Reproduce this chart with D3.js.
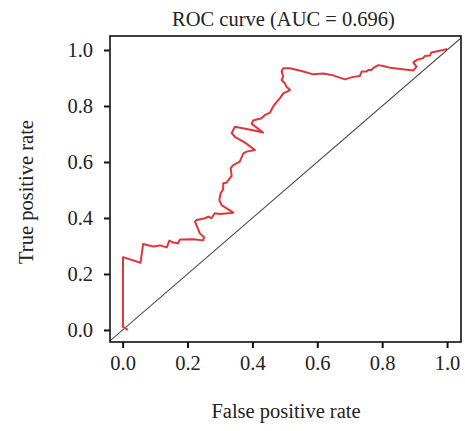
<!DOCTYPE html>
<html><head><meta charset="utf-8">
<script src="https://cdn.jsdelivr.net/npm/d3@7"></script>
<style>
html,body{margin:0;padding:0;background:#fff;}
text{font-family:"Liberation Serif","DejaVu Serif",serif;fill:#222;}
</style></head>
<body><svg id="c" width="465" height="431"></svg>
<script>
const titleText = "ROC curve (AUC = 0.696)";
const xLabel = "False positive rate";
const yLabel = "True positive rate";
const tickValues = [0.0, 0.2, 0.4, 0.6, 0.8, 1.0];
const fpr = [0.016,0.001,0.001,0.055,0.063,0.094,0.115,0.136,0.144,0.156,0.171,0.177,0.218,0.248,0.251,0.238,0.223,0.228,0.254,0.264,0.274,0.284,0.300,0.341,0.305,0.298,0.302,0.310,0.310,0.320,0.336,0.333,0.341,0.351,0.361,0.372,0.382,0.408,0.377,0.346,0.336,0.346,0.398,0.433,0.398,0.402,0.428,0.439,0.454,0.464,0.475,0.485,0.495,0.516,0.505,0.500,0.490,0.495,0.490,0.495,0.516,0.557,0.587,0.618,0.644,0.685,0.711,0.731,0.737,0.752,0.757,0.767,0.772,0.788,0.803,0.824,0.896,0.906,0.896,0.906,0.926,0.932,0.947,0.952,0.988,1.000];
const tpr = [0.000,0.011,0.260,0.240,0.307,0.298,0.302,0.295,0.319,0.312,0.310,0.323,0.324,0.320,0.331,0.345,0.387,0.393,0.399,0.405,0.399,0.417,0.414,0.419,0.446,0.464,0.488,0.503,0.524,0.526,0.550,0.578,0.589,0.595,0.601,0.631,0.637,0.643,0.669,0.690,0.703,0.726,0.714,0.705,0.736,0.748,0.756,0.768,0.776,0.798,0.815,0.828,0.845,0.857,0.869,0.881,0.893,0.905,0.923,0.935,0.935,0.923,0.913,0.916,0.911,0.895,0.904,0.907,0.923,0.923,0.929,0.929,0.935,0.946,0.943,0.937,0.927,0.940,0.956,0.964,0.971,0.979,0.980,0.991,1.000,1.004];

const svg = d3.select("#c");
const L = 110, R = 461, T = 36, B = 342;
const x = d3.scaleLinear().domain([-0.039, 1.043]).range([L, R]);
const y = d3.scaleLinear().domain([-0.043, 1.050]).range([B, T]);
const FS = 20.5;

svg.append("defs").append("clipPath").attr("id","clip")
  .append("rect").attr("x",L).attr("y",T).attr("width",R-L).attr("height",B-T);

// diagonal reference line
svg.append("line").attr("clip-path","url(#clip)")
  .attr("x1", x(-0.1)).attr("y1", y(-0.1)).attr("x2", x(1.1)).attr("y2", y(1.1))
  .attr("stroke","#444").attr("stroke-width",1.1);

// ROC curve
const pts = fpr.map((d,i)=>[d,tpr[i]]);
svg.append("path").datum(pts)
  .attr("d", d3.line().x(d=>x(d[0])).y(d=>y(d[1])))
  .attr("fill","none").attr("stroke","#e0363a").attr("stroke-width",2)
  .attr("stroke-linejoin","round");

// box
svg.append("rect").attr("x",L).attr("y",T).attr("width",R-L).attr("height",B-T)
  .attr("fill","none").attr("stroke","#111").attr("stroke-width",1.6);

// axes
const fmt = d3.format(".1f");
const xAxis = svg.append("g").attr("transform",`translate(0,${B})`)
  .call(d3.axisBottom(x).tickValues(tickValues).tickFormat(fmt).tickSize(6).tickPadding(14));
const yAxis = svg.append("g").attr("transform",`translate(${L},0)`)
  .call(d3.axisLeft(y).tickValues(tickValues).tickFormat(fmt).tickSize(6).tickPadding(11));
[xAxis,yAxis].forEach(g=>{
  g.select(".domain").remove();
  g.selectAll(".tick line").attr("stroke","#111").attr("stroke-width",2);
  g.selectAll(".tick text").attr("font-size",FS).attr("fill","#222")
    .style("font-family","'Liberation Serif',serif");
});
xAxis.selectAll(".tick text").attr("dy",null).attr("y",28);
yAxis.selectAll(".tick text").attr("dy","0.32em");

// title and labels
svg.append("text").attr("x",(L+R)/2 - 2).attr("y",26).attr("text-anchor","middle")
  .attr("font-size",FS).text(titleText);
svg.append("text").attr("x",286).attr("y",418).attr("text-anchor","middle")
  .attr("font-size",FS).text(xLabel);
svg.append("text").attr("transform","translate(33,192) rotate(-90)").attr("text-anchor","middle")
  .attr("font-size",FS).text(yLabel);
</script></body></html>
